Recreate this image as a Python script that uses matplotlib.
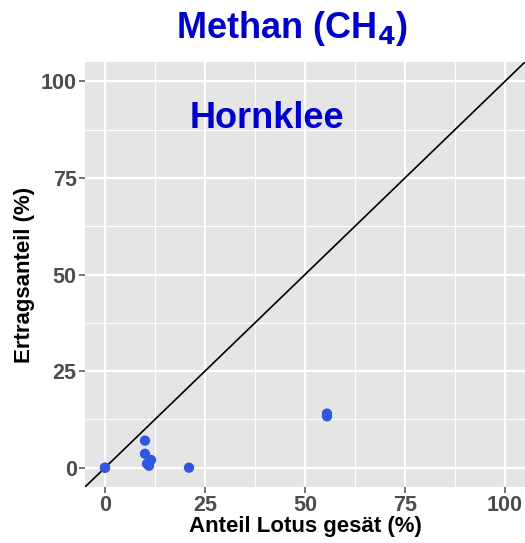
import matplotlib
matplotlib.use("Agg")
import matplotlib.pyplot as plt
import numpy as np

plt.rcParams['font.family'] = ['Liberation Sans', 'DejaVu Sans']

# values
lotus_sown = [0, 0, 10, 10, 11.5, 10.5, 11, 21, 55.5, 55.5]
yield_share = [0, 0, 7, 3.6, 2, 1, 0.5, 0, 13.3, 14]
ticks = [0, 25, 50, 75, 100]

blue_pts = '#2f57e0'
blue_txt = '#0000cc'
grey = '#4d4d4d'


def main():
    fig = plt.figure(figsize=(5.25, 5.43), dpi=100)
    ax = fig.add_axes([85 / 525, 1 - 487 / 543, 440 / 525, 425 / 543])
    ax.set_facecolor('#e5e5e5')

    ax.set_xlim(-5, 105)
    ax.set_ylim(-5, 105)
    ax.set_xticks(ticks)
    ax.set_yticks(ticks)
    ax.set_xticks([12.5, 37.5, 62.5, 87.5], minor=True)
    ax.set_yticks([12.5, 37.5, 62.5, 87.5], minor=True)
    ax.grid(which='major', color='white', linewidth=1.6)
    ax.grid(which='minor', color='white', linewidth=0.8)
    ax.set_axisbelow(True)
    for s in ax.spines.values():
        s.set_visible(False)

    ax.tick_params(which='major', length=4, width=1.1, color=grey,
                   labelcolor=grey, labelsize=15.5, pad=2)
    ax.tick_params(which='minor', length=0)
    for lab in ax.get_xticklabels() + ax.get_yticklabels():
        lab.set_fontweight('bold')

    ax.plot([-5, 105], [-5, 105], color='black', linewidth=1.2, zorder=2)
    ax.scatter(lotus_sown, yield_share, s=55, color=blue_pts, zorder=3,
               edgecolors='none')

    ax.text(40.5, 90.4, 'Hornklee', color=blue_txt, fontsize=26,
            fontweight='bold', ha='center', va='center')

    ax.set_xlabel('Anteil Lotus gesät (%)', fontsize=16, fontweight='bold',
                  color='black', labelpad=0)
    ax.set_ylabel('Ertragsanteil (%)', fontsize=16, fontweight='bold',
                  color='black', labelpad=4)

    fig.text(292 / 525, 1 - 28 / 543, r'Methan (CH$_\mathbf{4}$)', color=blue_txt,
             fontsize=26, fontweight='bold', ha='center', va='center')

    fig.savefig('out.png', dpi=100)


if __name__ == '__main__':
    main()
